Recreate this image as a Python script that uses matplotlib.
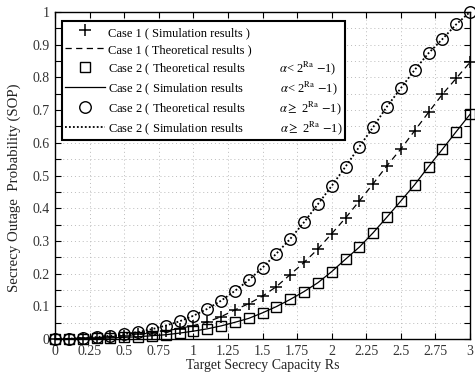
import matplotlib
matplotlib.use("Agg")
import matplotlib.pyplot as plt
import numpy as np
from matplotlib.ticker import MultipleLocator, FuncFormatter

plt.rcParams['font.family'] = ['Liberation Serif', 'DejaVu Serif']
plt.rcParams['mathtext.fontset'] = 'stix'

rs = [0.0, 0.1, 0.2, 0.3, 0.4, 0.5, 0.6, 0.7, 0.8, 0.9, 1.0, 1.1, 1.2, 1.3, 1.4, 1.5,
      1.6, 1.7, 1.8, 1.9, 2.0, 2.1, 2.2, 2.3, 2.4, 2.5, 2.6, 2.7, 2.8, 2.9, 3.0]

case1 = [0.0, 0.001, 0.002, 0.004, 0.007, 0.010, 0.014, 0.019, 0.025, 0.032, 0.041,
         0.052, 0.068, 0.089, 0.108, 0.131, 0.160, 0.197, 0.234, 0.275, 0.322, 0.370,
         0.422, 0.475, 0.530, 0.581, 0.637, 0.693, 0.748, 0.797, 0.846]

case2_low = [0.0, 0.0005, 0.001, 0.002, 0.003, 0.005, 0.007, 0.010, 0.013, 0.018, 0.024,
             0.031, 0.040, 0.051, 0.063, 0.080, 0.099, 0.121, 0.145, 0.172, 0.206, 0.244,
             0.281, 0.325, 0.373, 0.422, 0.472, 0.527, 0.580, 0.634, 0.687]

case2_high = [0.0, 0.001, 0.003, 0.006, 0.010, 0.015, 0.021, 0.030, 0.041, 0.054, 0.071,
              0.092, 0.117, 0.147, 0.180, 0.218, 0.261, 0.306, 0.357, 0.412, 0.468, 0.527,
              0.588, 0.648, 0.711, 0.767, 0.823, 0.874, 0.917, 0.962, 1.0]

gap_t = " " * 11
gap_s = " " * 12
labels = [
    "Case 1 ( Simulation results )",
    "Case 1 ( Theoretical results )",
    "Case 2 ( Theoretical results" + gap_t + r"$\alpha$< 2$^{\mathrm{Ra}}$ $-$1)",
    "Case 2 ( Simulation results" + gap_s + r"$\alpha$< 2$^{\mathrm{Ra}}$ $-$1)",
    "Case 2 ( Theoretical results" + gap_t + r"$\alpha\geq$ 2$^{\mathrm{Ra}}$ $-$1)",
    "Case 2 ( Simulation results" + gap_s + r"$\alpha\geq$ 2$^{\mathrm{Ra}}$ $-$1)",
]

fig = plt.figure(figsize=(4.75, 3.73), dpi=100)
ax = fig.add_axes([55/475, 1-339/373, 415/475, 327/373])

lw = 0.9
h1, = ax.plot(rs, case1, linestyle='none', marker='+', markersize=8, mew=1.1,
              color='black', clip_on=False, zorder=4)
h2, = ax.plot(rs, case1, linestyle=(0, (5, 3.5)), linewidth=lw, color='black', zorder=3)
h3, = ax.plot(rs, case2_low, linestyle='none', marker='s', markersize=6.5, mew=1.0,
              mfc='none', color='black', clip_on=False, zorder=4)
h4, = ax.plot(rs, case2_low, linestyle='-', linewidth=lw, color='black', zorder=3)
h5, = ax.plot(rs, case2_high, linestyle='none', marker='o', markersize=8.3, mew=1.0,
              mfc='none', color='black', clip_on=False, zorder=4)
h6, = ax.plot(rs, case2_high, linestyle=(0, (1, 1.2)), linewidth=1.3, color='black', zorder=3)

ax.set_xlim(0, 3)
ax.set_ylim(0, 1)
ax.xaxis.set_major_locator(MultipleLocator(0.25))
ax.yaxis.set_major_locator(MultipleLocator(0.05))


def xfmt(v, pos):
    s = f"{v:.2f}".rstrip('0').rstrip('.')
    return s


def yfmt(v, pos):
    k = int(round(v * 20))
    if k % 2:
        return ""
    s = f"{v:.1f}".rstrip('0').rstrip('.')
    return s


ax.xaxis.set_major_formatter(FuncFormatter(xfmt))
ax.yaxis.set_major_formatter(FuncFormatter(yfmt))
ax.tick_params(direction='in', top=True, right=True, length=4, width=0.8,
               labelsize=10, pad=4, colors='black', labelcolor='#333333')
ax.grid(True, linestyle=(0, (1, 3)), color='#bbbbbb', linewidth=0.7)
for s in ax.spines.values():
    s.set_linewidth(1.0)

ax.set_xlabel("Target Secrecy Capacity Rs", fontsize=10, labelpad=1, color='#222222')
ax.set_ylabel("Secrecy Outage  Probability (SOP)", fontsize=10.7, color='#222222')
ax.yaxis.set_label_coords(-0.081, 0.463)

leg = ax.legend([h1, h2, h3, h4, h5, h6], labels, loc='upper left',
                bbox_to_anchor=(62/475, 1-21/373), bbox_transform=fig.transFigure,
                borderaxespad=0, fontsize=9, handlelength=3.2, handletextpad=0.2,
                handleheight=1.5, labelspacing=0.2, borderpad=0.25,
                fancybox=False, framealpha=1, edgecolor='black')
leg.get_frame().set_linewidth(1.5)

fig.savefig("out.png", dpi=100)
